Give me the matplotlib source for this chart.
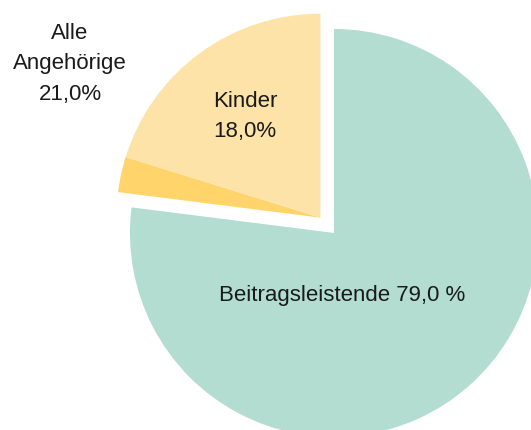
import numpy as np
import matplotlib
matplotlib.use("Agg")
import matplotlib.pyplot as plt

plt.rcParams['font.family'] = ['Liberation Sans', 'DejaVu Sans']

# wedge shares as drawn in the picture (clockwise from 12 o'clock)
groups = ['Beitragsleistende', 'Sonstige Angehörige', 'Kinder']
shares = [77.0, 2.8, 20.2]
colors = ['#b3ddd0', '#fed46b', '#fde3a7']
exploded = [False, True, True]

label_main = 'Beitragsleistende 79,0 %'
label_kinder = 'Kinder\n18,0%'
label_alle = 'Alle\nAngehörige\n21,0%'

fig = plt.figure(figsize=(5.31, 4.30), dpi=100)
ax = fig.add_axes([0, 0, 1, 1])

# offset for the exploded group, along its middle angle
start = 90.0
frac = np.array(shares) / sum(shares)
ends = start - 360 * np.cumsum(frac)
begins = np.concatenate([[start], ends[:-1]])
grp = np.array(exploded)
mid = np.deg2rad((begins[grp].max() + ends[grp].min()) / 2)
shift = (0.1 * np.cos(mid), 0.1 * np.sin(mid))

base_colors = [c if not e else 'none' for c, e in zip(colors, exploded)]
out_colors = [c if e else 'none' for c, e in zip(colors, exploded)]

ax.pie(shares, colors=base_colors, startangle=start, counterclock=False,
       center=(0, 0), wedgeprops=dict(linewidth=0))
ax.pie(shares, colors=out_colors, startangle=start, counterclock=False,
       center=shift, wedgeprops=dict(linewidth=0))

ax.text(0.042, -0.333, label_main, ha='center', va='baseline',
        fontsize=16, color='#1a1a1a')
ax.text(-0.436, 0.57, label_kinder, ha='center', va='center',
        fontsize=16, color='#1a1a1a', linespacing=1.6)
ax.text(-1.294, 0.83, label_alle, ha='center', va='center',
        fontsize=16, color='#1a1a1a', linespacing=1.6)

ax.set_xlim(-1.637, 0.966)
ax.set_ylim(-0.966, 1.142)
ax.set_aspect('equal')
ax.axis('off')

fig.savefig('out.png', dpi=100)
